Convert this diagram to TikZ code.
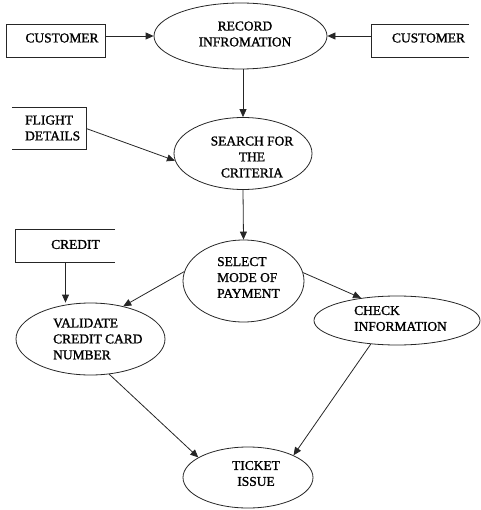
\documentclass[tikz,border=0pt]{standalone}
\usepackage{fontspec}
\setmainfont{Liberation Serif}
\newfontfamily\lblfont{Liberation Serif}[FakeBold=1.3]
\usetikzlibrary{shapes.geometric,arrows.meta}

\tikzset{
  edge/.style={draw=black!85, line width=0.8bp},
  proc/.style={ellipse, draw=black!85, line width=0.8bp, inner sep=0pt},
  store/.style={rectangle, inner sep=0pt},
  txt/.style={inner sep=0pt, font=\lblfont\fontsize{13.5}{16}\selectfont, text=black},
  flow/.style={edge, -{Triangle[length=8bp,width=7bp]}}
}

\begin{document}
\begin{tikzpicture}[x=1bp,y=-1bp]
\useasboundingbox (0,0) rectangle (481,510);

% processes
\node[proc, minimum width=173bp, minimum height=66bp] (rec) at (240.5,36) {};
\node[proc, minimum width=138bp, minimum height=72bp] (search) at (243,153.5) {};
\node[proc, minimum width=121bp, minimum height=82bp] (sel) at (243.5,281) {};
\node[proc, minimum width=149bp, minimum height=72bp] (val) at (90.5,339) {};
\node[proc, minimum width=166bp, minimum height=49bp] (chk) at (397,320.5) {};
\node[proc, minimum width=130bp, minimum height=61bp] (tick) at (248,477.5) {};

% external entities / stores
\node[store, minimum width=98bp, minimum height=32bp] (custl) at (56,41) {};
\node[store, minimum width=97bp, minimum height=32bp] (custr) at (420.5,41) {};
\node[store, minimum width=74bp, minimum height=41bp] (flight) at (49,128.5) {};
\node[store, minimum width=99bp, minimum height=32bp] (credit) at (65.5,246) {};

\draw[edge] (custl.north west) rectangle (custl.south east);
\draw[edge] (custr.north east) -- (custr.north west) -- (custr.south west) -- (custr.south east);
\draw[edge] (flight.north west) -- (flight.north east) -- (flight.south east) -- (flight.south west);
\draw[edge] (credit.north east) -- (credit.north west) -- (credit.south west) -- (credit.south east);

% labels
\node[txt, align=center] (rect) at (245,34) {RECORD\\INFROMATION};
\node[txt, align=center] (searcht) at (252,157) {SEARCH FOR\\THE\\CRITERIA};
\node[txt, align=left, anchor=west] (selt) at (217,277.5) {SELECT\\MODE OF\\PAYMENT};
\node[txt, align=left, anchor=west] (valt) at (53,339) {VALIDATE\\CREDIT CARD\\NUMBER};
\node[txt, align=left, anchor=west] (chkt) at (354,318.5) {CHECK\\INFORMATION};
\node[txt, align=center] (tickt) at (256,473.5) {TICKET\\ISSUE};
\node[txt] (custlt) at (62,38) {CUSTOMER};
\node[txt] (custrt) at (428.5,38) {CUSTOMER};
\node[txt, align=left, anchor=west] (flightt) at (25,128) {FLIGHT\\DETAILS};
\node[txt] (creditt) at (75.5,244.5) {CREDIT};

% data flows
\draw[flow] (custl.east |- rec.west) -- (rec.west);
\draw[flow] (custr.west |- rec.east) -- (rec.east);
\draw[flow] (rec.south -| search.north) -- (search.north);
\draw[flow] (flight.east) -- (search.186);
\draw[flow] (search.south) -- (sel.north);
\draw[flow] (credit.south) -- (credit.south |- val.north);
\draw[flow] (sel.171) -- (val.45);
\draw[flow] (sel.8.5) -- (chk.148);
\draw[flow] (val.298) -- (tick.158);
\draw[flow] (chk.222) -- (tick.26);
\end{tikzpicture}
\end{document}
